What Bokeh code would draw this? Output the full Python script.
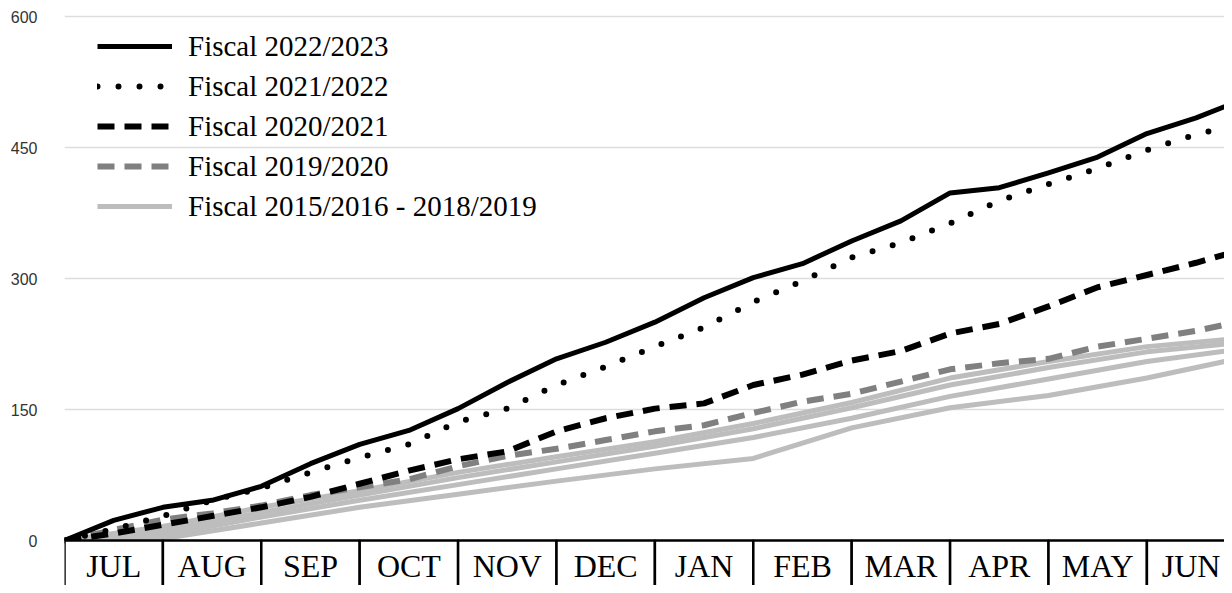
from bokeh.plotting import figure
from bokeh.models import Range1d, FixedTicker, Legend, LegendItem, ColumnDataSource
from bokeh.embed import file_html
from bokeh.resources import INLINE
from bokeh.core.properties import value

# ---------------- data ----------------
months = ["JUL", "AUG", "SEP", "OCT", "NOV", "DEC",
          "JAN", "FEB", "MAR", "APR", "MAY", "JUN"]
y_ticks = [0, 150, 300, 450, 600]

# x in months since 1 July (half-month steps)
x_half = [0, 0.5, 1, 1.5, 2, 2.5, 3, 3.5, 4, 4.5, 5, 5.5, 6,
          6.5, 7, 7.5, 8, 8.5, 9, 9.5, 10, 10.5, 11, 11.5, 12]
fy_2022_23 = [0, 23, 38, 46, 62, 88, 110, 126, 151, 181, 208, 227, 250,
              278, 301, 317, 343, 366, 398, 404, 421, 439, 466, 484, 506]
fy_2021_22 = [0, 13, 28, 46, 60, 78, 95, 110, 136, 151, 178, 199, 222,
              244, 273, 297, 324, 341, 363, 389, 408, 426, 447, 465, 478]
fy_2020_21 = [0, 8, 18, 28, 38, 50, 65, 80, 93, 102, 125, 140, 151,
              157, 178, 190, 206, 217, 237, 248, 268, 290, 304, 318, 334]
fy_2019_20 = [0, 12, 24, 31, 40, 52, 61, 70, 85, 97, 105, 115, 125,
              132, 146, 159, 168, 182, 196, 203, 208, 222, 231, 240, 252]

# earlier fiscal years, monthly
x_month = [0, 1, 2, 3, 4, 5, 6, 7, 8, 9, 10, 11, 12]
fy_hist_a = [0, 16, 38, 57, 78, 96, 113, 134, 158, 186, 205, 222, 232]
fy_hist_b = [0, 11, 32, 52, 72, 90, 108, 128, 152, 178, 198, 216, 227]
fy_hist_c = [0, 6, 27, 46, 64, 82, 100, 118, 140, 165, 185, 205, 220]
fy_hist_d = [0, 2, 20, 38, 53, 68, 82, 94, 129, 152, 166, 186, 210]

# ---------------- layout ----------------
W, H = 1224, 585
LEFT = 64
PX_PER_MONTH = 98.4
PX_PER_UNIT = 131 / 150.0
ZERO_FROM_TOP = 540
BOX_DEPTH = 59.5
LABEL_PAD = 0.34   # keep month labels inside the visible frame (months)

x_end = (W - LEFT) / PX_PER_MONTH
y_top = ZERO_FROM_TOP / PX_PER_UNIT
y_bot = -(H - ZERO_FROM_TOP) / PX_PER_UNIT

p = figure(width=W, height=H, output_backend="svg", toolbar_location=None,
           x_range=Range1d(0, x_end), y_range=Range1d(y_bot, y_top),
           x_axis_location=None, min_border_left=LEFT, min_border_right=0,
           min_border_top=0, min_border_bottom=0)
p.outline_line_color = None
p.background_fill_color = "white"
p.border_fill_color = "white"

ax = p.yaxis[0]
ax.ticker = FixedTicker(ticks=y_ticks)
ax.axis_line_color = None
ax.major_tick_line_color = None
ax.minor_tick_line_color = None
ax.major_tick_out = 0
ax.major_tick_in = 0
ax.minor_tick_out = 0
ax.minor_tick_in = 0
ax.major_label_standoff = 27
ax.major_label_text_font = "Liberation Sans"
ax.major_label_text_font_size = "16px"
ax.major_label_text_color = "#333333"
p.xgrid.visible = False
p.ygrid.grid_line_color = "#dddddd"
p.ygrid.grid_line_width = 1.3

LIGHT = "#bdbdbd"
hist = []
for ys in [fy_hist_d, fy_hist_c, fy_hist_b, fy_hist_a]:
    hist.append(p.line(x_month, ys, line_color=LIGHT, line_width=5,
                       line_join="round"))
r19 = p.line(x_half, fy_2019_20, line_color="#808080", line_width=6,
             line_dash="17 10")
r20 = p.line(x_half, fy_2020_21, line_color="black", line_width=6,
             line_dash="17 10")
r21 = p.line(x_half, fy_2021_22, line_color="black", line_width=6,
             line_dash="0 21", line_cap="round")
r22 = p.line(x_half, fy_2022_23, line_color="black", line_width=5,
             line_join="round")

# month boxes along the bottom
idx = list(range(len(months)))
src = ColumnDataSource(dict(
    left=idx, right=[i + 1 for i in idx],
    mid=[min(i + 0.5, x_end - LABEL_PAD) for i in idx],
    top=[0] * len(idx), bottom=[-BOX_DEPTH] * len(idx),
    ty=[-BOX_DEPTH / 2] * len(idx), name=months))
p.quad(left="left", right="right", top="top", bottom="bottom", source=src,
       fill_color="white", line_color="black", line_width=2.5)
p.text(x="mid", y="ty", text="name", source=src, text_align="center",
       text_baseline="middle", text_font=value("Liberation Serif"),
       text_font_size="32px", text_color="black")

legend = Legend(items=[
    LegendItem(label="Fiscal 2022/2023", renderers=[r22]),
    LegendItem(label="Fiscal 2021/2022", renderers=[r21]),
    LegendItem(label="Fiscal 2020/2021", renderers=[r20]),
    LegendItem(label="Fiscal 2019/2020", renderers=[r19]),
    LegendItem(label="Fiscal 2015/2016 - 2018/2019", renderers=[hist[0]]),
], location=(33, H - 26 - 200))
legend.label_text_font = "Liberation Serif"
legend.label_text_font_size = "29px"
legend.label_text_color = "black"
legend.glyph_width = 75
legend.glyph_height = 40
legend.label_height = 40
legend.label_standoff = 16
legend.spacing = 0
legend.padding = 0
legend.margin = 0
legend.border_line_alpha = 0
legend.background_fill_alpha = 0
p.add_layout(legend, "center")

open("out.html", "w").write(file_html(p, INLINE))
